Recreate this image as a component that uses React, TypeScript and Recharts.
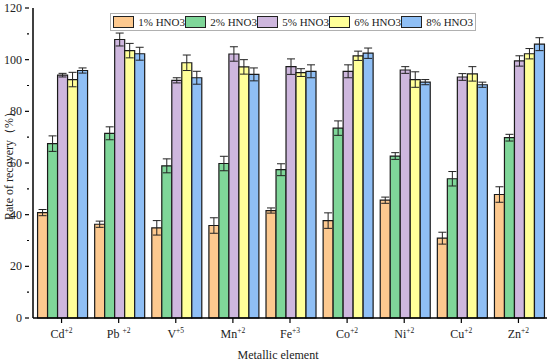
import React from 'react'
import { BarChart, Bar, XAxis, YAxis, ErrorBar, Label } from 'recharts'

const elements = ['Cd', 'Pb ', 'V', 'Mn', 'Fe', 'Co', 'Ni', 'Cu', 'Zn']
const charges = ['+2', '+2', '+5', '+2', '+3', '+2', '+2', '+2', '+2']

const hno3_1 = [40.8, 36.3, 34.9, 35.8, 41.6, 37.7, 45.6, 30.9, 47.8]
const hno3_1Err = [1.2, 1.2, 2.8, 3.0, 1.0, 3.0, 1.2, 2.3, 3.0]
const hno3_2 = [67.5, 71.5, 58.9, 59.8, 57.4, 73.5, 62.7, 53.9, 69.8]
const hno3_2Err = [3.0, 2.5, 2.7, 2.8, 2.3, 2.8, 1.3, 2.8, 1.3]
const hno3_5 = [94.0, 107.8, 92.0, 102.2, 97.3, 95.5, 96.0, 93.3, 99.5]
const hno3_5Err = [0.7, 2.5, 1.0, 2.8, 3.0, 2.5, 1.3, 1.3, 2.0]
const hno3_6 = [92.3, 103.5, 98.8, 97.2, 95.0, 101.5, 92.3, 94.5, 102.3]
const hno3_6Err = [2.8, 2.8, 3.0, 2.8, 1.5, 1.8, 3.0, 2.8, 2.0]
const hno3_8 = [95.8, 102.3, 93.0, 94.3, 95.5, 102.5, 91.3, 90.3, 106.0]
const hno3_8Err = [1.0, 2.5, 2.5, 2.5, 2.5, 2.0, 1.0, 1.0, 2.5]

const yTicks = [0, 10, 20, 30, 40, 50, 60, 70, 80, 90, 100, 110, 120]

const series = [
  { key: 'c1', err: 'e1', name: '1% HNO3', color: '#fdc98f' },
  { key: 'c2', err: 'e2', name: '2% HNO3', color: '#7fd699' },
  { key: 'c5', err: 'e5', name: '5% HNO3', color: '#ceb7de' },
  { key: 'c6', err: 'e6', name: '6% HNO3', color: '#ffff99' },
  { key: 'c8', err: 'e8', name: '8% HNO3', color: '#8fbff5' },
]

const data = elements.map((el, i) => ({
  name: el,
  c1: hno3_1[i], e1: hno3_1Err[i],
  c2: hno3_2[i], e2: hno3_2Err[i],
  c5: hno3_5[i], e5: hno3_5Err[i],
  c6: hno3_6[i], e6: hno3_6Err[i],
  c8: hno3_8[i], e8: hno3_8Err[i],
}))

const font = '"Liberation Serif", "Times New Roman", serif'

function XTick(props: any) {
  const { x, y, payload, index } = props
  return (
    <g>
      <line x1={x} y1={y - 8} x2={x} y2={y - 3} stroke="#000" strokeWidth={1.2} />
      <text x={x} y={y + 12} textAnchor="middle" fontFamily={font} fontSize={12} fill="#222">
        {payload.value}
        <tspan fontSize={7.5} dy={-5}>{charges[index]}</tspan>
      </text>
    </g>
  )
}

function YTick(props: any) {
  const { x, y, payload } = props
  const major = payload.value % 20 === 0
  return (
    <g>
      <line x1={x + 4 - (major ? 4 : 2)} y1={y} x2={x + 4} y2={y} stroke="#000" strokeWidth={1.2} />
      {major && (
        <text x={x - 3} y={y + 4} textAnchor="end" fontFamily={font} fontSize={12} fill="#222">
          {payload.value}
        </text>
      )}
    </g>
  )
}

function LegendBox() {
  return (
    <div
      style={{
        position: 'absolute',
        top: 13,
        left: 110,
        display: 'flex',
        alignItems: 'center',
        border: '1px solid #b0b0b0',
        background: '#fff',
        padding: '1px 2px',
        fontFamily: font,
        fontSize: 11,
        color: '#222',
        height: 14,
        whiteSpace: 'nowrap',
      }}
    >
      {series.map((s) => (
        <div key={s.key} style={{ display: 'flex', alignItems: 'center', width: 72 }}>
          <span
            style={{
              display: 'inline-block',
              width: 22,
              height: 10,
              background: s.color,
              border: '1px solid #222',
              marginRight: 4,
            }}
          />
          <span>{s.name}</span>
        </div>
      ))}
    </div>
  )
}

export default function App() {
  return (
    <div style={{ position: 'absolute', left: 0, top: 0, width: 550, height: 363, background: '#fff' }}>
      <BarChart
        width={550}
        height={363}
        data={data}
        margin={{ top: 8, right: 3, bottom: 0, left: 0 }}
        barCategoryGap="8%"
        barGap={0}
      >
        <XAxis
          dataKey="name"
          xAxisId="main"
          height={45}
          axisLine={{ stroke: '#000', strokeWidth: 1.5 }}
          tickLine={false}
          tick={<XTick />}
          interval={0}
        >
          <Label
            content={() => (
              <text x={278} y={359} textAnchor="middle" fontFamily={font} fontSize={12} fill="#222">
                Metallic element
              </text>
            )}
          />
        </XAxis>
        <XAxis
          xAxisId="top"
          orientation="top"
          dataKey="name"
          height={0}
          tick={false}
          tickLine={false}
          axisLine={{ stroke: '#000', strokeWidth: 1.5 }}
        />
        <YAxis
          yAxisId="main"
          width={33}
          domain={[0, 120]}
          ticks={yTicks}
          interval={0}
          axisLine={{ stroke: '#000', strokeWidth: 1.5 }}
          tickLine={false}
          tick={<YTick />}
        >
          <Label
            content={() => (
              <text
                x={13}
                y={163}
                transform="rotate(-90 13 163)"
                textAnchor="middle"
                fontFamily={font}
                fontSize={12}
                fill="#222"
              >
                Rate of recovery（%）
              </text>
            )}
          />
        </YAxis>
        <YAxis
          yAxisId="right"
          orientation="right"
          width={0}
          domain={[0, 120]}
          tick={false}
          tickLine={false}
          axisLine={{ stroke: '#000', strokeWidth: 1.5 }}
        />
        {series.map((s) => (
          <Bar
            key={s.key}
            dataKey={s.key}
            name={s.name}
            xAxisId="main"
            yAxisId="main"
            fill={s.color}
            stroke="#1a1a1a"
            strokeWidth={1.2}
            isAnimationActive={false}
          >
            <ErrorBar dataKey={s.err} width={4} stroke="#222" strokeWidth={1} direction="y" />
          </Bar>
        ))}
      </BarChart>
      <LegendBox />
    </div>
  )
}
